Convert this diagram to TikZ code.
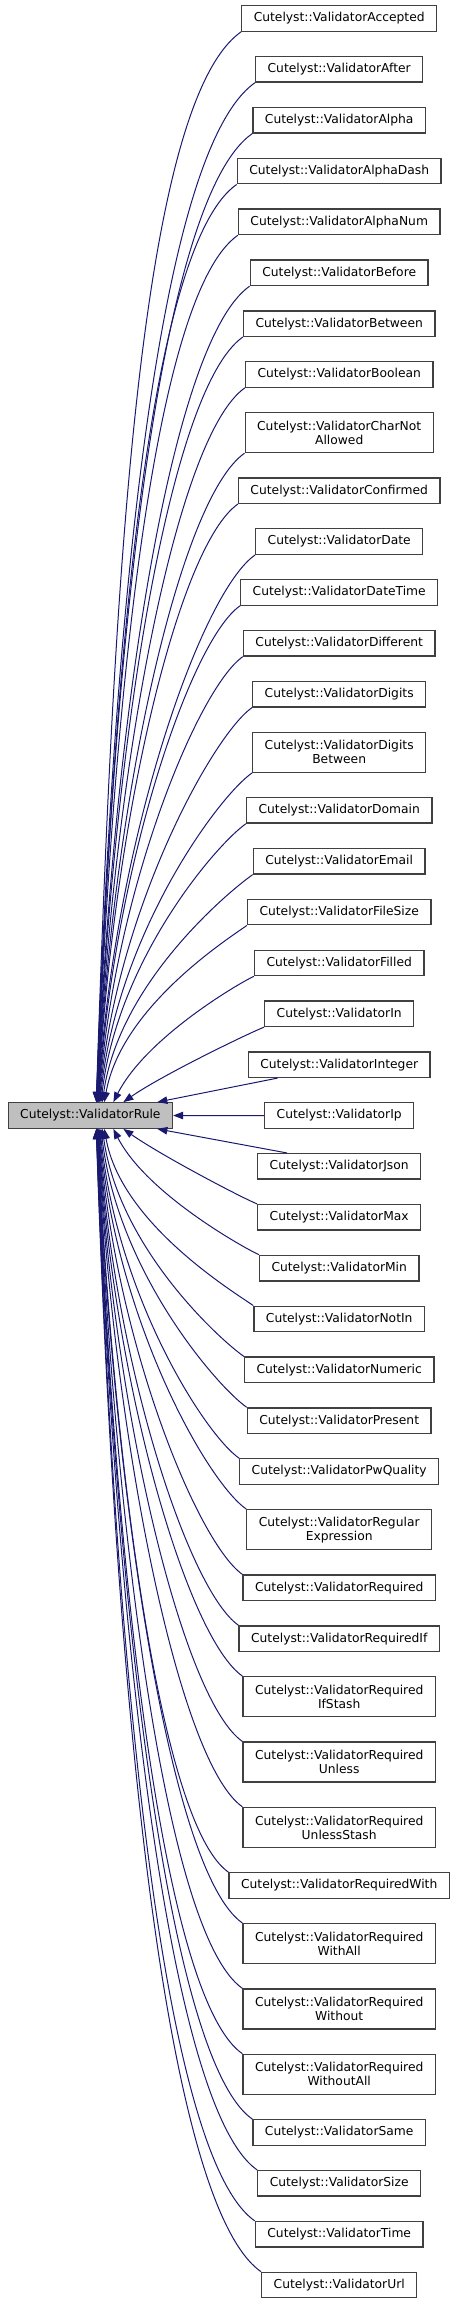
\documentclass[tikz,border=0pt]{standalone}
\usepackage{fontspec}
\setmainfont{DejaVu Sans}
\usetikzlibrary{arrows.meta,calc}
\definecolor{edgeblue}{HTML}{191970}
\definecolor{boxgray}{HTML}{404040}
\definecolor{basefill}{HTML}{BFBFBF}

\begin{document}
\begin{tikzpicture}[x=1pt, y=-1pt,
  every node/.style={font=\fontsize{12.3}{14}\selectfont},
  cls/.style={draw=boxgray, line width=1.3pt, fill=white, inner xsep=12pt, inner ysep=2pt, minimum height=25.5pt, align=center},
  cls2/.style={cls, minimum height=40pt},
  base/.style={cls, fill=basefill},
  inh/.style={draw=edgeblue, line width=1pt, -{Triangle[length=10pt, width=7.5pt]}}]

\useasboundingbox (0,0) rectangle (460,2304);

% base class
\node[base] (rule) at (90.35,1115.5) {Cutelyst::ValidatorRule};

% derived classes, one column
\foreach \n/\sty/\lbl/\y in {
  acc/cls/{Cutelyst::ValidatorAccepted}/18.45,
  after/cls/{Cutelyst::ValidatorAfter}/69.31,
  alpha/cls/{Cutelyst::ValidatorAlpha}/120.17,
  alphadash/cls/{Cutelyst::ValidatorAlphaDash}/171.03,
  alphanum/cls/{Cutelyst::ValidatorAlphaNum}/221.89,
  before/cls/{Cutelyst::ValidatorBefore}/272.75,
  between/cls/{Cutelyst::ValidatorBetween}/323.61,
  boolean/cls/{Cutelyst::ValidatorBoolean}/374.47,
  charnot/cls2/{Cutelyst::ValidatorCharNot\\Allowed}/432.58,
  confirmed/cls/{Cutelyst::ValidatorConfirmed}/490.69,
  date/cls/{Cutelyst::ValidatorDate}/541.55,
  datetime/cls/{Cutelyst::ValidatorDateTime}/592.41,
  different/cls/{Cutelyst::ValidatorDifferent}/643.27,
  digits/cls/{Cutelyst::ValidatorDigits}/694.13,
  digitsbetween/cls2/{Cutelyst::ValidatorDigits\\Between}/752.24,
  domain/cls/{Cutelyst::ValidatorDomain}/810.35,
  email/cls/{Cutelyst::ValidatorEmail}/861.21,
  filesize/cls/{Cutelyst::ValidatorFileSize}/912.07,
  filled/cls/{Cutelyst::ValidatorFilled}/962.93,
  valin/cls/{Cutelyst::ValidatorIn}/1013.79,
  integer/cls/{Cutelyst::ValidatorInteger}/1064.65,
  ip/cls/{Cutelyst::ValidatorIp}/1115.51,
  json/cls/{Cutelyst::ValidatorJson}/1166.37,
  max/cls/{Cutelyst::ValidatorMax}/1217.23,
  min/cls/{Cutelyst::ValidatorMin}/1268.09,
  notin/cls/{Cutelyst::ValidatorNotIn}/1318.95,
  numeric/cls/{Cutelyst::ValidatorNumeric}/1369.81,
  present/cls/{Cutelyst::ValidatorPresent}/1420.67,
  pwquality/cls/{Cutelyst::ValidatorPwQuality}/1471.53,
  regex/cls2/{Cutelyst::ValidatorRegular\\Expression}/1529.64,
  required/cls/{Cutelyst::ValidatorRequired}/1587.75,
  requiredif/cls/{Cutelyst::ValidatorRequiredIf}/1638.61,
  reqifstash/cls2/{Cutelyst::ValidatorRequired\\IfStash}/1696.72,
  requnless/cls2/{Cutelyst::ValidatorRequired\\Unless}/1762.08,
  requnlessstash/cls2/{Cutelyst::ValidatorRequired\\UnlessStash}/1827.44,
  reqwith/cls/{Cutelyst::ValidatorRequiredWith}/1885.55,
  reqwithall/cls2/{Cutelyst::ValidatorRequired\\WithAll}/1943.66,
  reqwithout/cls2/{Cutelyst::ValidatorRequired\\Without}/2009.02,
  reqwithoutall/cls2/{Cutelyst::ValidatorRequired\\WithoutAll}/2074.38,
  same/cls/{Cutelyst::ValidatorSame}/2132.49,
  size/cls/{Cutelyst::ValidatorSize}/2183.35,
  time/cls/{Cutelyst::ValidatorTime}/2234.21,
  url/cls/{Cutelyst::ValidatorUrl}/2285.07}
  \node[\sty] (\n) at (339.2,\y) {\lbl};

% edges from the classes above
\foreach \n/\d in {acc/21, after/20, alpha/19, alphadash/18, alphanum/17, before/16,
    between/15, boolean/14, charnot/13, confirmed/12, date/11, datetime/10,
    different/9, digits/8, digitsbetween/7, domain/6, email/5, filesize/4} {
  \pgfmathsetmacro\dx{4+40/\d}
  \pgfmathsetmacro\ang{90-40/\d}
  \pgfmathsetmacro\od{6*\d}
  \pgfmathsetmacro\id{24*\d}
  \draw[inh] (\n.south west) .. controls +(215:\od pt) and +(\ang:\id pt) .. ($(rule.north)+(\dx,0)$);
}
\draw[inh] (filled.south west) .. controls +(205:18pt) and +(63:72pt) .. ($(rule.north)+(23,0)$);
\draw[inh] (valin.south west) .. controls +(200:12pt) and +(35:48pt) .. ($(rule.north)+(33,0)$);
\draw[inh] ($(integer.south west)+(30,0)$) -- ($(rule.north)+(67,0)$);

\draw[inh] (ip) -- (rule);

% edges from the classes below
\draw[inh] ($(json.north west)+(30,0)$) -- ($(rule.south)+(67,0)$);
\draw[inh] (max.north west) .. controls +(160:12pt) and +(-35:48pt) .. ($(rule.south)+(33,0)$);
\draw[inh] (min.north west) .. controls +(155:18pt) and +(-63:72pt) .. ($(rule.south)+(23,0)$);
\foreach \n/\d in {notin/4, numeric/5, present/6, pwquality/7, regex/8, required/9,
    requiredif/10, reqifstash/11, requnless/12, requnlessstash/13, reqwith/14,
    reqwithall/15, reqwithout/16, reqwithoutall/17, same/18, size/19, time/20, url/21} {
  \pgfmathsetmacro\dx{4+40/\d}
  \pgfmathsetmacro\ang{90-40/\d}
  \pgfmathsetmacro\od{6*\d}
  \pgfmathsetmacro\id{24*\d}
  \draw[inh] (\n.north west) .. controls +(145:\od pt) and +(-\ang:\id pt) .. ($(rule.south)+(\dx,0)$);
}

\end{tikzpicture}
\end{document}
